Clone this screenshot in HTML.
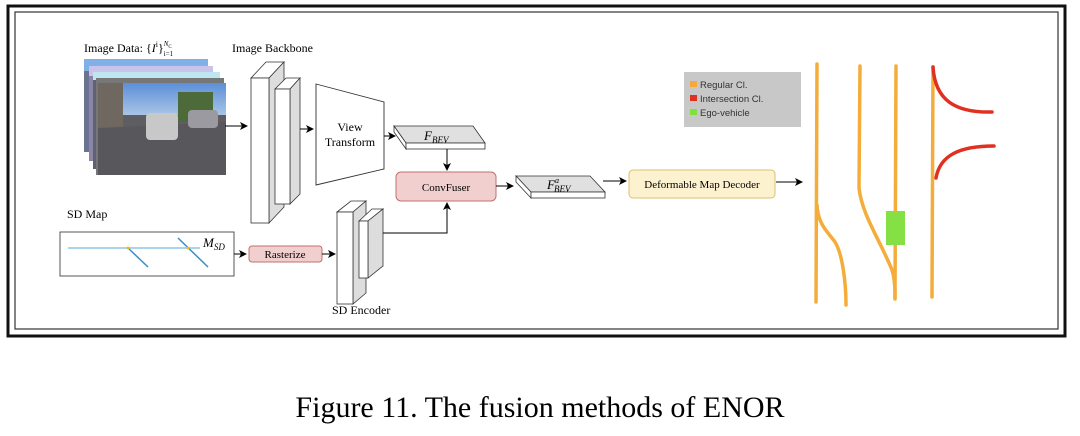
<!DOCTYPE html>
<html><head><meta charset="utf-8"><style>
html,body{margin:0;padding:0;background:#fff;width:1080px;height:436px;overflow:hidden}
svg{display:block}
text{font-family:"Liberation Serif",serif}
text.sans{font-family:"Liberation Sans",sans-serif}
</style></head><body>
<svg width="1080" height="436" viewBox="0 0 1080 436" xmlns="http://www.w3.org/2000/svg">
<defs>
<marker id="a" markerWidth="8" markerHeight="8" refX="7" refY="4" orient="auto" markerUnits="userSpaceOnUse"><path d="M0,0 L8,4 L0,8 L2,4 Z" fill="#000"/></marker>
<linearGradient id="sky" x1="0" y1="0" x2="0" y2="1"><stop offset="0" stop-color="#5c8fd8"/><stop offset="1" stop-color="#a9c4e6"/></linearGradient>
</defs>
<rect x="8" y="6" width="1057" height="330" fill="none" stroke="#111" stroke-width="3"/>
<rect x="15" y="12" width="1043" height="317" fill="none" stroke="#333" stroke-width="1.2"/>

<text x="84" y="52" font-size="12">Image Data: {<tspan font-style="italic">I</tspan><tspan font-size="8" dy="-5">i</tspan><tspan dy="5">}</tspan><tspan font-size="7" dy="-6" font-style="italic">N</tspan><tspan font-size="5" dy="2">C</tspan><tspan font-size="7" dx="-8" dy="8">i=1</tspan></text>
<rect x="84" y="59" width="124" height="93" fill="#6a7390"/>
<rect x="84" y="59" width="124" height="12" fill="#7fb0e8"/>
<rect x="89" y="66" width="124" height="95" fill="#8b86a8"/>
<rect x="89" y="66" width="124" height="10" fill="#c9c3ea"/>
<rect x="93" y="72" width="127" height="97" fill="#5d6470"/>
<rect x="93" y="72" width="127" height="8" fill="#bfe6f0"/>
<rect x="96" y="78" width="128" height="97" fill="#777"/>
<rect x="98" y="83" width="128" height="92" fill="#5e5e62"/>
<rect x="98" y="83" width="128" height="32" fill="url(#sky)"/>
<rect x="98" y="83" width="25" height="45" fill="#6f6860"/>
<rect x="178" y="92" width="35" height="30" fill="#4c6a3a"/>
<path d="M98,128 L226,122 L226,175 L98,175 Z" fill="#58585c"/>
<rect x="146" y="113" width="32" height="27" rx="4" fill="#c8c8c8"/>
<rect x="188" y="110" width="30" height="18" rx="4" fill="#9a9aa0"/>
<line x1="225" y1="126" x2="247" y2="126" stroke="#000" stroke-width="1" marker-end="url(#a)"/>

<text x="232" y="52" font-size="12">Image Backbone</text>
<polygon points="251,78 266,62 284,62 269,78" fill="#fff" stroke="#333" stroke-width="0.8"/>
<polygon points="269,78 284,62 284,207 269,223" fill="#ddd" stroke="#333" stroke-width="0.8"/>
<rect x="251" y="78" width="18" height="145" fill="#fff" stroke="#333" stroke-width="0.8"/>
<polygon points="275,89 286,78 300,78 290,89" fill="#fff" stroke="#333" stroke-width="0.8"/>
<polygon points="290,89 300,78 300,194 290,204" fill="#ddd" stroke="#333" stroke-width="0.8"/>
<rect x="275" y="89" width="15" height="115" fill="#fff" stroke="#333" stroke-width="0.8"/>
<line x1="300" y1="129" x2="313" y2="129" stroke="#000" marker-end="url(#a)"/>

<polygon points="316,84 384,102 384,169 316,185" fill="#fff" stroke="#333" stroke-width="0.9"/>
<text x="350" y="131" font-size="12" text-anchor="middle">View</text>
<text x="350" y="146" font-size="12" text-anchor="middle">Transform</text>
<line x1="384" y1="136" x2="395" y2="136" stroke="#000" marker-end="url(#a)"/>

<polygon points="394,126 473,126 485,143 406,143" fill="#e0e0e0" stroke="#333" stroke-width="0.8"/>
<polygon points="394,126 406,143 406,149 394,132" fill="#fff" stroke="#333" stroke-width="0.8"/>
<rect x="406" y="143" width="79" height="6" fill="#fff" stroke="#333" stroke-width="0.8"/>
<text x="424" y="140" font-size="13" font-style="italic">F<tspan font-size="9" dy="3">BEV</tspan></text>
<line x1="447" y1="149" x2="447" y2="170" stroke="#000" marker-end="url(#a)"/>

<rect x="396" y="172" width="100" height="29" rx="5" fill="#f2cfcf" stroke="#c07070" stroke-width="1"/>
<text x="446" y="191" font-size="11" text-anchor="middle">ConvFuser</text>
<line x1="496" y1="186" x2="513" y2="186" stroke="#000" marker-end="url(#a)"/>

<polygon points="516,176 590,176 605,192 531,192" fill="#e0e0e0" stroke="#333" stroke-width="0.8"/>
<polygon points="516,176 531,192 531,198 516,182" fill="#fff" stroke="#333" stroke-width="0.8"/>
<rect x="531" y="192" width="74" height="6" fill="#fff" stroke="#333" stroke-width="0.8"/>
<text x="547" y="189" font-size="13" font-style="italic">F<tspan font-size="8" dy="-6">a</tspan><tspan font-size="9" dx="-5" dy="9">BEV</tspan></text>
<line x1="603" y1="181" x2="626" y2="181" stroke="#000" marker-end="url(#a)"/>

<rect x="629" y="170" width="146" height="28" rx="4" fill="#fdf2cf" stroke="#d8c070" stroke-width="1"/>
<text x="702" y="188" font-size="11" text-anchor="middle">Deformable Map Decoder</text>
<line x1="776" y1="182" x2="802" y2="182" stroke="#000" marker-end="url(#a)"/>

<text x="67" y="218" font-size="12">SD Map</text>
<rect x="60" y="232" width="174" height="44" fill="#fff" stroke="#444" stroke-width="0.9"/>
<line x1="68" y1="248" x2="200" y2="248" stroke="#8ec6e8" stroke-width="1.5"/>
<line x1="128" y1="248" x2="148" y2="267" stroke="#3c8cc8" stroke-width="1.5"/>
<line x1="178" y1="238" x2="208" y2="267" stroke="#3c8cc8" stroke-width="1.5"/>
<circle cx="128" cy="248" r="1.5" fill="#e8c020"/><circle cx="188" cy="248" r="1.5" fill="#e8c020"/>
<text x="203" y="247" font-size="13" font-style="italic">M<tspan font-size="9" dy="3">SD</tspan></text>
<line x1="234" y1="254" x2="246" y2="254" stroke="#000" marker-end="url(#a)"/>

<rect x="249" y="246" width="73" height="16" rx="3" fill="#f2cfcf" stroke="#c07070" stroke-width="1"/>
<text x="285" y="258" font-size="11" text-anchor="middle">Rasterize</text>
<line x1="322" y1="254" x2="335" y2="254" stroke="#000" marker-end="url(#a)"/>

<polygon points="337,212 351,201 366,201 353,212" fill="#fff" stroke="#333" stroke-width="0.8"/>
<polygon points="353,212 366,201 366,293 353,304" fill="#ddd" stroke="#333" stroke-width="0.8"/>
<rect x="337" y="212" width="16" height="92" fill="#fff" stroke="#333" stroke-width="0.8"/>
<polygon points="359,221 372,209 383,209 368,221" fill="#fff" stroke="#333" stroke-width="0.8"/>
<polygon points="368,221 383,209 383,266 368,278" fill="#ddd" stroke="#333" stroke-width="0.8"/>
<rect x="359" y="221" width="9" height="57" fill="#fff" stroke="#333" stroke-width="0.8"/>
<text x="332" y="314" font-size="12">SD Encoder</text>
<polyline points="383,233 447,233 447,203" fill="none" stroke="#000" marker-end="url(#a)"/>

<rect x="684" y="72" width="117" height="55" fill="#c8c8c8"/>
<rect x="690" y="81" width="7" height="6" fill="#f4a938"/><text class="sans" x="700" y="88" font-size="9.5" fill="#333">Regular Cl.</text>
<rect x="690" y="95" width="7" height="6" fill="#e03020"/><text class="sans" x="700" y="102" font-size="9.5" fill="#333">Intersection Cl.</text>
<rect x="690" y="109" width="7" height="6" fill="#80e040"/><text class="sans" x="700" y="116" font-size="9.5" fill="#333">Ego-vehicle</text>

<g fill="none" stroke="#f4ad3a" stroke-width="3.5" stroke-linecap="round">
<line x1="817" y1="64" x2="816" y2="302"/>
<path d="M817,205 C818,225 828,232 835,242 C843,255 846,285 846,305"/>
<path d="M860,66 L859,188 C862,215 880,240 892,270 C895,280 895,290 895,299"/>
<line x1="896" y1="66" x2="895" y2="298"/>
<line x1="933" y1="67" x2="932" y2="297"/>
</g>
<g fill="none" stroke="#e03020" stroke-width="3.5" stroke-linecap="round">
<path d="M933,67 C935,100 955,113 992,112"/>
<path d="M936,178 C940,155 960,146 994,146"/>
</g>
<rect x="886" y="211" width="19" height="34" fill="#84e044"/>

<text x="540" y="417" font-size="30" text-anchor="middle">Figure 11. The fusion methods of ENOR</text>
</svg>
</body></html>
